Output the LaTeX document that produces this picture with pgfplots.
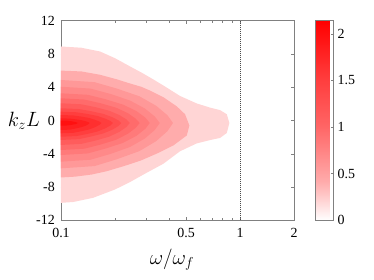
\documentclass[border=0pt]{standalone}
\usepackage{fontspec}
\setmainfont{Liberation Serif}
\usepackage{pgfplots}
\pgfplotsset{compat=1.18}
\definecolor{c1}{RGB}{255,213,213}
\definecolor{c2}{RGB}{255,172,172}
\definecolor{c3}{RGB}{255,152,152}
\definecolor{c4}{RGB}{255,137,137}
\definecolor{c5}{RGB}{255,122,122}
\definecolor{c6}{RGB}{255,107,107}
\definecolor{c7}{RGB}{255,92,92}
\definecolor{c8}{RGB}{255,77,77}
\definecolor{c9}{RGB}{255,62,62}
\definecolor{c10}{RGB}{255,47,47}
\definecolor{c11}{RGB}{255,32,32}
\definecolor{c12}{RGB}{255,16,16}
\definecolor{axgray}{RGB}{128,128,128}
\begin{document}
\begin{tikzpicture}[x=1bp,y=1bp]
\begin{axis}[
  scale only axis,
  width=233bp, height=199.6bp,
  xmode=log, xmin=0.1, xmax=2, ymin=-12, ymax=12,
  xtick={0.1,0.5,1,2}, xticklabels={0.1,0.5,1,2},
  minor xtick={0.2,0.3,0.4,0.6,0.7,0.8,0.9},
  ytick={-12,-8,-4,0,4,8,12}, yticklabels={-12,-8,-4,0,4,8,12},
  axis line style={draw=axgray, line width=0.6bp},
  tick style={draw=axgray, line width=0.5bp},
  major tick length=3bp, minor tick length=2.5bp,
  tick align=inside,
  tick label style={font=\fontsize{14}{16}\selectfont},
  xticklabel style={inner sep=0pt, yshift=-8bp},
  yticklabel style={inner sep=0pt, xshift=-6bp},
  colormap={redmap}{rgb255(0)=(255,255,255) rgb255(2)=(255,213,213) rgb255(4)=(255,172,172) rgb255(10)=(255,100,100) rgb255(15)=(255,60,60) rgb255(21)=(255,0,0)},
  point meta min=0, point meta max=2.14,
  colorbar,
  colorbar style={
    at={(parent axis.north east)}, anchor=north west, xshift=13bp,
    width=18bp,
    ytick={0,0.5,1,1.5,2}, yticklabels={0,0.5,1,1.5,2},
    ytick pos=right, yticklabel pos=right,
    yticklabel style={font=\fontsize{14}{16}\selectfont, inner sep=0pt, xshift=4bp},
    axis line style={draw=axgray, line width=0.6bp},
    tick style={draw=axgray, line width=0.5bp},
    major tick length=2.5bp, tick align=inside,
  },
]
% level 1
\addplot[fill=c1, draw=none] coordinates {(0.1,8.9) (0.13,8.75) (0.165,8.3) (0.2,7.5) (0.243,6.5) (0.285,5.7) (0.33,4.9) (0.38,4.1) (0.462,2.95) (0.573,2.05) (0.68,1.55) (0.773,1.25) (0.843,0.75) (0.871,-0.3) (0.843,-1.5) (0.773,-2.1) (0.68,-2.35) (0.573,-2.75) (0.462,-3.7) (0.373,-5.2) (0.3,-6.3) (0.243,-7.4) (0.2,-8.3) (0.151,-9.3) (0.117,-9.8) (0.1,-9.9)};
% level 2
\addplot[fill=c2, draw=none] coordinates {(0.1,6.0) (0.13,5.9) (0.165,5.5) (0.205,4.95) (0.243,4.45) (0.281,4.05) (0.314,3.6) (0.373,2.8) (0.443,1.7) (0.493,0.75) (0.521,-0.6) (0.504,-1.8) (0.424,-3.0) (0.345,-3.95) (0.28,-4.8) (0.227,-5.45) (0.18,-6.1) (0.148,-6.5) (0.12,-6.75) (0.1,-6.85)};
% level 3
\addplot[fill=c3, draw=none] coordinates {(0.1,4.87) (0.154,4.61) (0.205,3.84) (0.274,2.91) (0.340,1.77) (0.393,0.63) (0.422,-0.3) (0.393,-1.28) (0.340,-2.48) (0.274,-3.68) (0.205,-4.66) (0.154,-5.48) (0.1,-5.75)};
% level 4
\addplot[fill=c4, draw=none] coordinates {(0.1,4.06) (0.146,3.84) (0.189,3.19) (0.243,2.40) (0.294,1.44) (0.334,0.48) (0.356,-0.3) (0.334,-1.14) (0.294,-2.16) (0.243,-3.18) (0.189,-4.02) (0.146,-4.72) (0.1,-4.95)};
% level 5
\addplot[fill=c5, draw=none] coordinates {(0.1,3.27) (0.141,3.09) (0.177,2.56) (0.222,1.91) (0.264,1.13) (0.296,0.34) (0.313,-0.3) (0.296,-0.99) (0.264,-1.84) (0.222,-2.69) (0.177,-3.38) (0.141,-3.96) (0.1,-4.15)};
% level 6
\addplot[fill=c6, draw=none] coordinates {(0.1,2.67) (0.135,2.52) (0.166,2.08) (0.203,1.54) (0.236,0.89) (0.261,0.23) (0.275,-0.3) (0.261,-0.89) (0.236,-1.60) (0.203,-2.32) (0.166,-2.90) (0.135,-3.39) (0.1,-3.55)};
% level 7
\addplot[fill=c7, draw=none] coordinates {(0.1,2.07) (0.130,1.95) (0.156,1.60) (0.186,1.17) (0.212,0.65) (0.232,0.13) (0.242,-0.3) (0.232,-0.78) (0.212,-1.36) (0.186,-1.94) (0.156,-2.41) (0.130,-2.81) (0.1,-2.94)};
% level 8
\addplot[fill=c8, draw=none] coordinates {(0.1,1.47) (0.126,1.38) (0.147,1.12) (0.172,0.80) (0.193,0.41) (0.209,0.02) (0.217,-0.3) (0.209,-0.67) (0.193,-1.12) (0.172,-1.56) (0.147,-1.93) (0.126,-2.24) (0.1,-2.34)};
% level 9
\addplot[fill=c9, draw=none] coordinates {(0.1,1.06) (0.122,0.99) (0.140,0.79) (0.160,0.54) (0.176,0.24) (0.189,-0.06) (0.195,-0.3) (0.189,-0.60) (0.176,-0.96) (0.160,-1.32) (0.140,-1.62) (0.122,-1.87) (0.1,-1.95)};
% level 10
\addplot[fill=c10, draw=none] coordinates {(0.1,0.66) (0.117,0.61) (0.130,0.47) (0.144,0.30) (0.155,0.08) (0.164,-0.13) (0.168,-0.3) (0.164,-0.52) (0.155,-0.80) (0.144,-1.07) (0.130,-1.29) (0.117,-1.48) (0.1,-1.54)};
% level 11
\addplot[fill=c11, draw=none] coordinates {(0.1,0.26) (0.112,0.23) (0.120,0.15) (0.129,0.05) (0.137,-0.08) (0.142,-0.20) (0.1446,-0.3) (0.142,-0.45) (0.137,-0.64) (0.129,-0.82) (0.120,-0.97) (0.112,-1.10) (0.1,-1.14)};
% level 12
\addplot[fill=c12, draw=none] coordinates {(0.1,0.0) (0.108,-0.02) (0.115,-0.1) (0.121,-0.2) (0.1245,-0.3) (0.121,-0.42) (0.115,-0.52) (0.108,-0.6) (0.1,-0.62)};
% dotted line at omega = omega_f
\addplot[draw=black!70, line width=0.5bp, dash pattern=on 1bp off 1bp] coordinates {(1,-12) (1,12)};
\coordinate (O) at (rel axis cs:0,0);
\end{axis}
\path (O) ++(111bp,-43.7bp) node[anchor=base, inner sep=0pt, font=\fontsize{22}{24}\selectfont] {$\omega/\omega_f$};
\path (O) ++(-21bp,93.6bp) node[anchor=base east, inner sep=0pt, font=\fontsize{22}{24}\selectfont] {$k_z L$};
\path (O) ++(-61bp,-59.7bp) rectangle ++(374bp,280bp);
\end{tikzpicture}
\end{document}
